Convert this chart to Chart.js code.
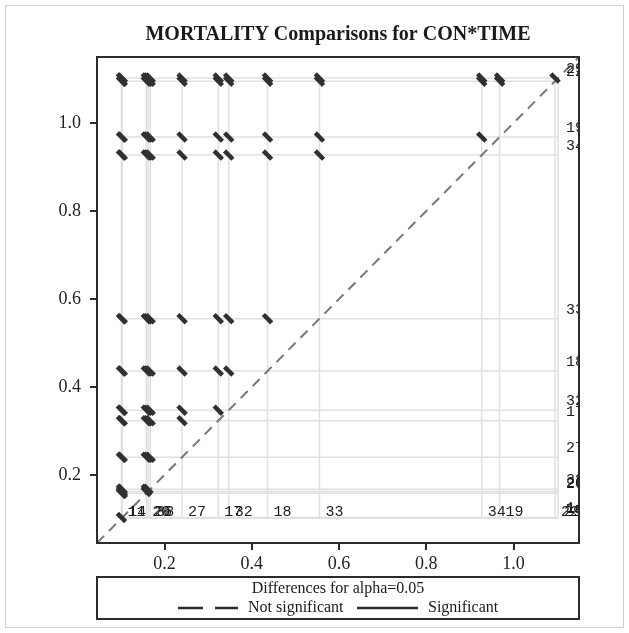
<!DOCTYPE html>
<html>
<head>
<meta charset="utf-8">
<script src="https://cdn.jsdelivr.net/npm/chart.js@4"></script>
<style>
  html, body { margin: 0; padding: 0; background: #fff; }
  #wrap { width: 629px; height: 633px; position: relative; }
</style>
</head>
<body>
<div id="wrap"><canvas id="chart" width="629" height="633"></canvas></div>
<script>
'use strict';

// LS-means of MORTALITY for each CON*TIME level
var levels = ['11', '14', '20', '26', '38', '27', '17', '32', '18', '33', '34', '19', '22', '29'];
var lsMeans = [0.101, 0.103, 0.158, 0.162, 0.167, 0.240, 0.323, 0.347, 0.436, 0.555, 0.927, 0.968, 1.095, 1.102];
// half-width of each difference segment (along each axis)
var diffHalf = 0.0095;

var tickValues = [0.2, 0.4, 0.6, 0.8, 1.0];
var axisMin = 0.045;
var axisMax = 1.15;

var titleText = 'MORTALITY Comparisons for CON*TIME';
var legendTitle = 'Differences for alpha=0.05';
var legendLabels = ['Not significant', 'Significant'];

var INK = '#2b2b2b';
var SERIF = '"Liberation Serif", "DejaVu Serif", serif';
var MONO = '"Liberation Mono", "DejaVu Sans Mono", monospace';

// one short segment per pair, x = smaller mean, y = larger mean
var segPoints = [];
for (var i = 0; i < lsMeans.length; i++) {
  for (var j = i + 1; j < lsMeans.length; j++) {
    var lo = Math.min(lsMeans[i], lsMeans[j]);
    var hi = Math.max(lsMeans[i], lsMeans[j]);
    segPoints.push({x: lo - diffHalf, y: hi + diffHalf});
    segPoints.push({x: lo + diffHalf, y: hi - diffHalf});
    segPoints.push({x: null, y: null});
  }
}

var minMean = Math.min.apply(null, lsMeans);
var maxMean = Math.max.apply(null, lsMeans);

var diffogram = {
  id: 'diffogram',
  beforeDraw: function(chart) {
    var ctx = chart.ctx;
    ctx.save();
    ctx.fillStyle = '#fff';
    ctx.fillRect(0, 0, chart.width, chart.height);
    ctx.strokeStyle = '#cfcfcf';
    ctx.lineWidth = 1;
    ctx.strokeRect(5.5, 5.5, chart.width - 11, chart.height - 11);
    ctx.restore();
  },
  beforeDatasetsDraw: function(chart) {
    var ctx = chart.ctx;
    var xs = chart.scales.x, ys = chart.scales.y;
    ctx.save();
    ctx.strokeStyle = '#e0e0e0';
    ctx.lineWidth = 1.5;
    lsMeans.forEach(function(m) {
      ctx.beginPath();
      ctx.moveTo(xs.getPixelForValue(m), ys.getPixelForValue(minMean));
      ctx.lineTo(xs.getPixelForValue(m), ys.getPixelForValue(maxMean));
      ctx.moveTo(xs.getPixelForValue(minMean), ys.getPixelForValue(m));
      ctx.lineTo(xs.getPixelForValue(maxMean), ys.getPixelForValue(m));
      ctx.stroke();
    });
    ctx.restore();
  },
  afterDatasetsDraw: function(chart) {
    var ctx = chart.ctx;
    var a = chart.chartArea;
    var xs = chart.scales.x, ys = chart.scales.y;
    ctx.save();
    ctx.beginPath();
    ctx.rect(a.left, a.top, a.right - a.left, a.bottom - a.top);
    ctx.clip();
    ctx.fillStyle = '#1c1c1c';
    ctx.font = '15px ' + MONO;
    ctx.textBaseline = 'middle';
    ctx.textAlign = 'left';
    levels.forEach(function(name, k) {
      var m = lsMeans[k];
      // bottom labels next to the vertical reference lines
      ctx.fillText(name, xs.getPixelForValue(m) + 6, ys.getPixelForValue(minMean) - 6);
      // right labels above the horizontal reference lines
      ctx.fillText(name, xs.getPixelForValue(maxMean) + 8, ys.getPixelForValue(m) - 9);
    });
    ctx.restore();
  },
  afterDraw: function(chart) {
    var ctx = chart.ctx;
    var a = chart.chartArea;
    var cx = (a.left + a.right) / 2;
    ctx.save();
    ctx.strokeStyle = INK;
    ctx.lineWidth = 2;
    ctx.strokeRect(a.left, a.top, a.right - a.left, a.bottom - a.top);

    ctx.fillStyle = '#1a1a1a';
    ctx.font = 'bold 20px ' + SERIF;
    ctx.textAlign = 'center';
    ctx.textBaseline = 'middle';
    ctx.fillText(titleText, cx, 35);

    // legend box
    var top = a.bottom + 34, h = 42;
    ctx.strokeRect(a.left, top, a.right - a.left, h);
    ctx.font = '16px ' + SERIF;
    ctx.fillText(legendTitle, cx, top + 12);
    var ly = top + 31;
    ctx.lineWidth = 2.5;
    ctx.setLineDash([25, 12]);
    ctx.beginPath();
    ctx.moveTo(cx - 160, ly);
    ctx.lineTo(cx - 100, ly);
    ctx.stroke();
    ctx.setLineDash([]);
    ctx.beginPath();
    ctx.moveTo(cx + 19, ly);
    ctx.lineTo(cx + 80, ly);
    ctx.stroke();
    ctx.textAlign = 'left';
    ctx.fillText(legendLabels[0], cx - 90, ly);
    ctx.fillText(legendLabels[1], cx + 90, ly);
    ctx.restore();
  }
};

function setTicks(scale) {
  scale.ticks = tickValues.map(function(v) { return {value: v}; });
}

var axisCommon = {
  type: 'linear',
  min: axisMin,
  max: axisMax,
  afterBuildTicks: setTicks,
  border: {display: false},
  grid: {drawOnChartArea: false, drawTicks: true, tickLength: 7, color: INK, lineWidth: 2},
  ticks: {
    color: '#222',
    font: {family: SERIF, size: 18},
    callback: function(v) { return v.toFixed(1); }
  }
};

new Chart(document.getElementById('chart').getContext('2d'), {
  type: 'scatter',
  data: {
    datasets: [{
      label: 'Differences',
      data: segPoints,
      showLine: true,
      spanGaps: false,
      borderColor: '#303030',
      borderWidth: 4.5,
      borderCapStyle: 'butt',
      pointRadius: 0
    }, {
      label: 'Diagonal',
      data: [{x: axisMin, y: axisMin}, {x: axisMax, y: axisMax}],
      showLine: true,
      borderColor: '#777',
      borderWidth: 2,
      borderDash: [10, 7],
      pointRadius: 0
    }]
  },
  options: {
    responsive: false,
    animation: false,
    layout: {padding: {top: 57, right: 50, left: 0, bottom: 0}},
    plugins: {legend: {display: false}, tooltip: {enabled: false}, title: {display: false}},
    scales: {
      x: Object.assign({}, axisCommon, {
        position: 'bottom',
        afterFit: function(s) { s.height = 90; },
        ticks: Object.assign({}, axisCommon.ticks, {padding: 3, maxRotation: 0})
      }),
      y: Object.assign({}, axisCommon, {
        position: 'left',
        afterFit: function(s) { s.width = 97; },
        ticks: Object.assign({}, axisCommon.ticks, {padding: 9})
      })
    }
  },
  plugins: [diffogram]
});
</script>
</body>
</html>
